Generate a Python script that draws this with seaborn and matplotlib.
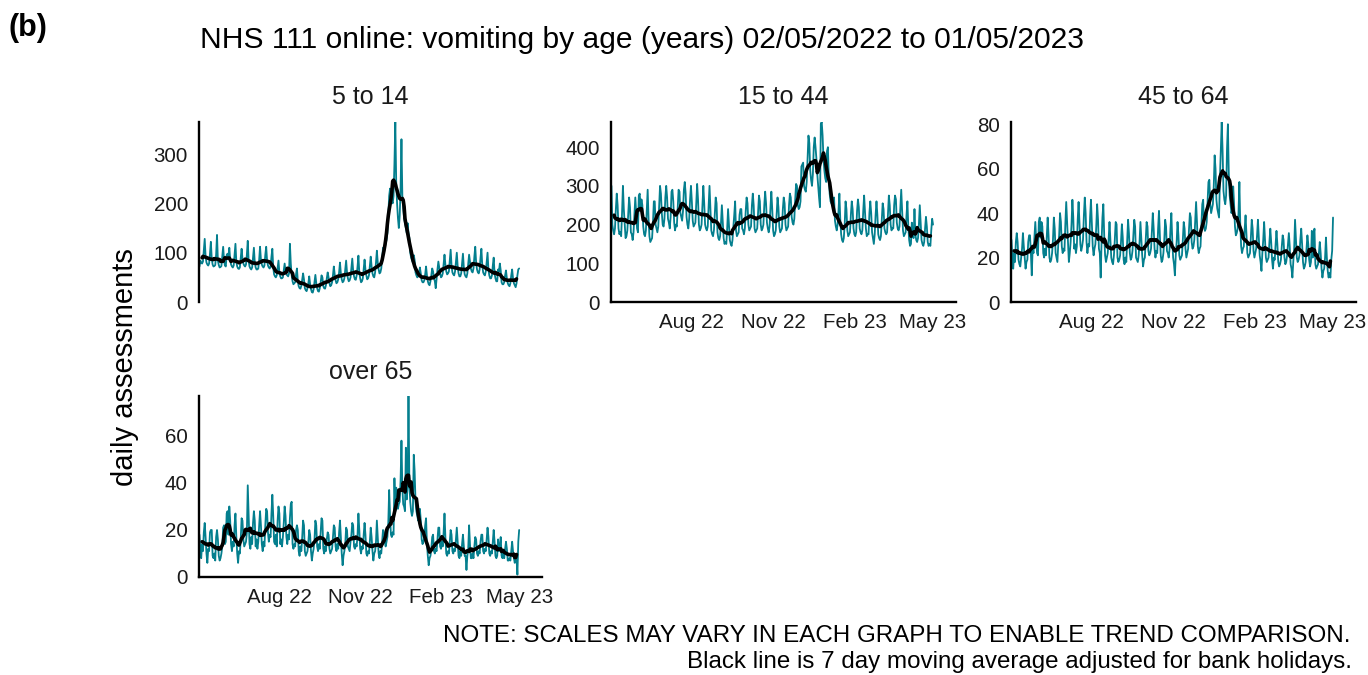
import numpy as np
import pandas as pd
import matplotlib
matplotlib.use("Agg")
import matplotlib.pyplot as plt
import seaborn as sns

# ---------------- data ----------------
start_date = "2022-05-02"
panel_titles = ["5 to 14", "15 to 44", "45 to 64", "over 65"]
x_tick_dates = ["2022-08-01", "2022-11-01", "2023-02-01", "2023-05-01"]
x_tick_labels = ["Aug 22", "Nov 22", "Feb 23", "May 23"]
y_ticks_5_14 = [0, 100, 200, 300]
y_ticks_15_44 = [0, 100, 200, 300, 400]
y_ticks_45_64 = [0, 20, 40, 60, 80]
y_ticks_over_65 = [0, 20, 40, 60]

# daily assessments, one row per week (Mon..Sun), from 02/05/2022
age_5_14 = [
    [72, 84, 80, 78, 82, 104, 128], [92, 80, 76, 74, 78, 98, 122],
    [88, 76, 72, 73, 75, 96, 136], [84, 75, 70, 71, 73, 92, 112],
    [85, 74, 72, 95, 98, 88, 110], [86, 76, 72, 70, 74, 95, 118],
    [82, 72, 68, 67, 70, 90, 108], [88, 78, 74, 72, 76, 96, 124],
    [84, 72, 68, 66, 70, 90, 110], [80, 70, 66, 66, 68, 86, 112],
    [86, 76, 72, 70, 74, 96, 112], [84, 74, 70, 68, 72, 92, 108],
    [70, 56, 52, 50, 54, 70, 84], [60, 52, 48, 48, 50, 64, 78],
    [62, 56, 54, 52, 58, 118, 78], [54, 42, 36, 38, 40, 56, 68],
    [42, 32, 28, 27, 33, 46, 58], [46, 28, 24, 22, 28, 38, 52],
    [36, 26, 20, 19, 26, 40, 55], [38, 28, 22, 21, 28, 40, 54],
    [50, 32, 28, 27, 34, 48, 60], [50, 38, 32, 34, 40, 54, 72],
    [56, 44, 38, 40, 46, 60, 80], [58, 46, 40, 42, 48, 66, 84],
    [60, 48, 42, 44, 50, 68, 88], [64, 52, 46, 45, 54, 72, 94],
    [60, 48, 40, 42, 48, 68, 86], [66, 54, 46, 48, 54, 74, 92],
    [72, 58, 52, 50, 60, 80, 104], [80, 66, 58, 60, 68, 90, 110],
    [100, 110, 118, 126, 140, 175, 215], [230, 220, 205, 200, 215, 280, 365],
    [245, 200, 170, 150, 175, 230, 330], [215, 190, 170, 160, 150, 140, 160],
    [140, 130, 100, 90, 85, 80, 95], [85, 60, 54, 50, 52, 58, 70],
    [58, 44, 40, 40, 44, 56, 72], [54, 42, 36, 34, 42, 54, 68],
    [62, 48, 42, 28, 48, 66, 82], [70, 58, 50, 52, 58, 78, 96],
    [76, 62, 56, 58, 62, 84, 106], [74, 60, 56, 54, 62, 82, 100],
    [72, 58, 52, 52, 58, 78, 98], [70, 56, 52, 50, 58, 78, 96],
    [82, 68, 62, 60, 68, 92, 112], [80, 66, 60, 58, 66, 90, 108],
    [74, 60, 56, 54, 62, 82, 100], [66, 54, 48, 48, 54, 74, 90],
    [58, 48, 42, 42, 66, 62, 78], [64, 40, 36, 36, 40, 54, 64],
    [48, 38, 34, 32, 38, 54, 66], [48, 38, 34, 30, 38, 54, 66],
    [68],
]
age_15_44 = [
    [300, 200, 185, 175, 190, 240, 280], [250, 190, 175, 180, 170, 230, 300],
    [240, 200, 165, 170, 185, 225, 270], [245, 180, 175, 160, 180, 225, 270],
    [230, 190, 180, 275, 280, 245, 265], [250, 195, 175, 170, 185, 235, 290],
    [215, 170, 155, 160, 165, 205, 260], [260, 200, 190, 180, 195, 250, 300],
    [280, 230, 200, 195, 215, 270, 300], [270, 215, 205, 190, 220, 285, 290],
    [260, 205, 185, 200, 195, 240, 290], [285, 230, 220, 210, 235, 290, 310],
    [280, 220, 200, 190, 215, 265, 300], [260, 210, 195, 200, 205, 255, 305],
    [265, 200, 185, 190, 200, 250, 300], [255, 200, 190, 185, 195, 250, 300],
    [240, 185, 175, 170, 185, 230, 270], [255, 180, 165, 160, 170, 205, 250],
    [205, 165, 150, 155, 150, 190, 240], [200, 160, 150, 145, 160, 195, 225],
    [260, 185, 170, 175, 180, 225, 240], [240, 190, 185, 175, 190, 235, 270],
    [255, 200, 185, 190, 195, 250, 280], [250, 190, 180, 185, 190, 235, 275],
    [260, 200, 185, 190, 200, 250, 285], [255, 205, 190, 180, 195, 245, 285],
    [240, 185, 170, 175, 185, 230, 270], [245, 195, 180, 185, 190, 240, 270],
    [255, 200, 185, 190, 195, 250, 280], [270, 220, 205, 200, 215, 265, 305],
    [300, 250, 240, 245, 260, 350, 355], [360, 300, 290, 285, 310, 370, 430],
    [410, 340, 315, 300, 330, 400, 425], [400, 370, 330, 300, 270, 245, 460],
    [465, 430, 370, 340, 320, 310, 390], [400, 320, 280, 260, 255, 250, 265],
    [270, 210, 195, 185, 200, 235, 280], [215, 175, 160, 155, 165, 200, 260],
    [240, 185, 170, 175, 180, 225, 260], [240, 190, 175, 170, 180, 235, 265],
    [245, 190, 180, 175, 185, 235, 275], [235, 190, 170, 175, 175, 230, 260],
    [230, 180, 165, 150, 175, 225, 260], [225, 175, 165, 160, 170, 215, 255],
    [240, 190, 180, 175, 180, 230, 275], [250, 200, 185, 190, 190, 250, 275],
    [265, 205, 190, 185, 195, 245, 290], [240, 185, 170, 175, 180, 225, 260],
    [195, 160, 145, 150, 205, 170, 165], [240, 175, 160, 155, 165, 200, 250],
    [205, 160, 150, 145, 155, 190, 220], [195, 155, 145, 150, 145, 185, 215],
    [200],
]
age_45_64 = [
    [28, 20, 15, 22, 18, 27, 31], [27, 19, 17, 16, 20, 24, 31],
    [25, 20, 15, 18, 19, 27, 30], [30, 22, 12, 24, 22, 29, 36],
    [28, 22, 21, 36, 38, 29, 36], [34, 22, 20, 24, 21, 30, 38],
    [30, 20, 18, 19, 22, 28, 38], [33, 22, 20, 18, 26, 30, 40],
    [36, 25, 22, 24, 23, 35, 45], [36, 26, 18, 22, 27, 35, 46],
    [38, 24, 26, 22, 25, 37, 45], [36, 26, 23, 25, 28, 39, 47],
    [40, 27, 22, 26, 25, 38, 46], [36, 25, 21, 24, 26, 34, 44],
    [37, 24, 22, 11, 27, 38, 44], [30, 21, 18, 20, 22, 28, 36],
    [28, 20, 18, 17, 21, 28, 36], [35, 20, 18, 19, 21, 27, 35],
    [29, 19, 17, 20, 18, 28, 37], [31, 22, 19, 20, 23, 30, 37],
    [34, 20, 19, 18, 21, 27, 36], [28, 21, 16, 19, 20, 28, 36],
    [34, 23, 21, 22, 24, 32, 40], [33, 24, 20, 23, 22, 33, 41],
    [30, 21, 18, 19, 22, 28, 37], [34, 23, 22, 20, 24, 33, 40],
    [28, 20, 17, 12, 21, 27, 36], [30, 21, 19, 20, 21, 28, 36],
    [33, 24, 20, 22, 24, 33, 40], [38, 27, 24, 25, 28, 37, 45],
    [36, 25, 22, 24, 25, 34, 44], [46, 34, 32, 33, 36, 45, 54],
    [55, 44, 40, 42, 44, 52, 66], [60, 46, 42, 40, 38, 56, 68],
    [81, 68, 50, 46, 44, 48, 69], [80, 58, 48, 44, 40, 42, 52],
    [44, 34, 30, 31, 33, 40, 54], [35, 25, 22, 24, 25, 33, 39],
    [31, 22, 20, 21, 22, 29, 37], [33, 23, 20, 22, 24, 30, 37],
    [29, 21, 18, 14, 22, 28, 36], [28, 20, 18, 19, 20, 27, 33],
    [27, 19, 15, 20, 19, 26, 32], [26, 18, 16, 17, 19, 25, 30],
    [28, 20, 17, 18, 21, 26, 31], [25, 17, 15, 11, 18, 24, 37],
    [29, 20, 18, 19, 21, 28, 33], [26, 18, 15, 16, 18, 24, 30],
    [26, 19, 16, 18, 32, 20, 30], [33, 17, 15, 16, 17, 22, 27],
    [22, 15, 11, 14, 15, 20, 29], [20, 14, 11, 13, 11, 19, 23],
    [38],
]
age_over_65 = [
    [18, 12, 8, 14, 11, 19, 23], [17, 10, 6, 12, 11, 19, 20],
    [20, 9, 8, 10, 7, 17, 20], [16, 9, 7, 8, 10, 13, 21],
    [22, 14, 15, 27, 28, 18, 30], [24, 14, 11, 15, 13, 22, 27],
    [17, 10, 6, 11, 10, 16, 25], [24, 16, 13, 14, 15, 19, 39],
    [26, 14, 12, 17, 14, 23, 28], [24, 13, 16, 12, 15, 22, 28],
    [22, 14, 11, 15, 13, 22, 29], [28, 19, 15, 18, 17, 27, 35],
    [26, 15, 14, 18, 13, 24, 30], [27, 14, 16, 13, 17, 23, 30],
    [26, 17, 14, 18, 16, 25, 31], [32, 14, 12, 14, 13, 20, 22],
    [20, 11, 9, 13, 11, 17, 24], [22, 11, 9, 10, 11, 15, 20],
    [18, 11, 7, 10, 12, 16, 24], [22, 13, 11, 14, 12, 19, 25],
    [24, 12, 10, 13, 11, 16, 19], [18, 12, 10, 11, 12, 17, 22],
    [21, 13, 11, 14, 12, 19, 24], [17, 10, 5, 9, 11, 14, 21],
    [20, 13, 12, 11, 15, 18, 23], [22, 13, 12, 14, 13, 18, 27],
    [20, 12, 10, 13, 12, 18, 23], [18, 10, 9, 11, 10, 15, 21],
    [17, 11, 7, 10, 11, 15, 24], [17, 10, 8, 11, 10, 15, 20],
    [19, 15, 13, 15, 17, 23, 37], [26, 18, 17, 19, 18, 42, 28],
    [38, 30, 29, 31, 32, 41, 58], [38, 31, 30, 28, 55, 33, 38],
    [77, 40, 32, 28, 26, 28, 52], [45, 32, 28, 26, 24, 26, 29],
    [24, 16, 14, 15, 17, 22, 25], [14, 9, 5, 8, 9, 12, 17],
    [18, 11, 10, 12, 11, 16, 21], [21, 13, 12, 15, 13, 19, 27],
    [17, 10, 9, 11, 10, 15, 20], [18, 11, 10, 12, 11, 16, 21],
    [15, 9, 8, 11, 9, 14, 18], [13, 9, 9, 3, 9, 12, 22],
    [14, 8, 8, 10, 8, 13, 17], [16, 10, 9, 11, 10, 15, 18],
    [18, 11, 10, 12, 11, 16, 21], [17, 10, 9, 11, 10, 15, 20],
    [15, 9, 8, 9, 16, 11, 13], [17, 9, 8, 10, 8, 12, 15],
    [12, 7, 7, 8, 7, 11, 15], [11, 8, 6, 9, 8, 1, 15],
    [20],
]

# ---------------- style ----------------
sns.set_style("white")
plt.rcParams["font.family"] = ["Liberation Sans", "DejaVu Sans"]

TEAL = "#047F8E"
TXT = "#1a1a1a"
W, H = 1368, 675

fig = plt.figure(figsize=(W / 100, H / 100), dpi=100)


def frame(rows):
    d = pd.DataFrame({"value": np.concatenate([np.array(r, dtype=float) for r in rows])})
    d["date"] = pd.date_range(start_date, periods=len(d), freq="D")
    d["ma"] = d["value"].rolling(7, center=True).mean()
    return d


panels = [
    (age_5_14, y_ticks_5_14, (199, 122, 542, 302), False),
    (age_15_44, y_ticks_15_44, (611, 122, 956, 302), True),
    (age_45_64, y_ticks_45_64, (1011, 122, 1356, 302), True),
    (age_over_65, y_ticks_over_65, (199, 396, 542, 577), True),
]
title_y = [97, 97, 97, 372]

xmin = pd.Timestamp(start_date) - pd.Timedelta(days=0.5)
xmax = pd.Timestamp("2023-05-27")

for i, (vals, yt, (l, t, r, b), show_x) in enumerate(panels):
    ax = fig.add_axes([l / W, 1 - b / H, (r - l) / W, (b - t) / H])
    d = frame(vals)
    sns.lineplot(data=d, x="date", y="value", ax=ax, color=TEAL, linewidth=1.3)
    sns.lineplot(data=d.dropna(), x="date", y="ma", ax=ax, color="black", linewidth=2.6)
    ax.set_xlim(xmin, xmax)
    ax.set_ylim(0, d["value"].max())
    ax.set_yticks(yt)
    ax.set_xlabel("")
    ax.set_ylabel("")
    for s in ["top", "right"]:
        ax.spines[s].set_visible(False)
    ax.spines["left"].set_linewidth(1.7)
    ax.spines["left"].set_color("black")
    ax.tick_params(axis="y", length=5, width=1.3, labelsize=14.8, colors=TXT, pad=3)
    if show_x:
        ax.spines["bottom"].set_linewidth(1.7)
        ax.spines["bottom"].set_color("black")
        ax.set_xticks(pd.to_datetime(x_tick_dates))
        ax.set_xticklabels(x_tick_labels)
        ax.tick_params(axis="x", length=5, width=1.3, labelsize=14.8, colors=TXT, pad=3)
    else:
        ax.spines["bottom"].set_visible(False)
        ax.set_xticks([])
    ax.patch.set_alpha(0)
    fig.text((l + r) / 2 / W, 1 - title_y[i] / H, panel_titles[i], ha="center",
             va="center", fontsize=18, color=TXT)

fig.text(9 / W, 1 - 28 / H, "(b)", ha="left", va="center", fontsize=22,
         fontweight="bold", color="black")
fig.text(200 / W, 1 - 40 / H,
         "NHS 111 online: vomiting by age (years) 02/05/2022 to 01/05/2023",
         ha="left", va="center", fontsize=21.6, color="black")
fig.text(125 / W, 1 - 367 / H, "daily assessments", rotation=90, ha="center",
         va="center", fontsize=21, color="black")
fig.text(1350 / W, 1 - 636 / H,
         "NOTE: SCALES MAY VARY IN EACH GRAPH TO ENABLE TREND COMPARISON.",
         ha="right", va="center", fontsize=17.4, color="black")
fig.text(1352 / W, 1 - 662 / H,
         "Black line is 7 day moving average adjusted for bank holidays.",
         ha="right", va="center", fontsize=17.4, color="black")

fig.savefig("out.png", dpi=100)
